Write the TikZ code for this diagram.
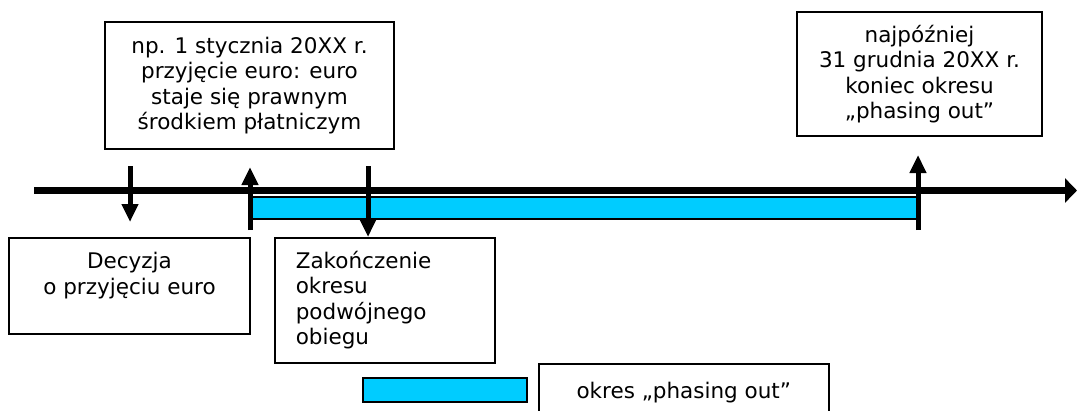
\documentclass[tikz,border=0pt]{standalone}
\usepackage{fontspec}
\setmainfont{DejaVu Sans}
\usetikzlibrary{positioning, arrows.meta}
\definecolor{BarColor}{RGB}{0,204,255}
\tikzstyle{timeline} = [line width=7pt, -{Triangle[length=12pt, width=24pt]}]
\tikzstyle{event} = [line width=5pt, -{Triangle[length=18pt, width=16pt]}]
\tikzstyle{note} = [draw, line width=1.6pt, inner sep=0pt, align=center, font=\fontsize{21.5}{25.5}\selectfont]
\tikzstyle{period} = [draw, line width=1.6pt, fill=BarColor, inner sep=0pt]

\begin{document}
\begin{tikzpicture}[x=1pt, y=-1pt]
    \useasboundingbox (0,0) rectangle (1077,410);

    % Boxes
    \node[note, minimum width=289, minimum height=127] (start) at (249.5,85.5)
        {np. 1 stycznia 20XX r.\\przyjęcie euro: euro\\staje się prawnym\\środkiem płatniczym};
    \node[note, minimum width=245, minimum height=124] (finish) at (919.5,74)
        {najpóźniej\\31 grudnia 20XX r.\\koniec okresu\\„phasing out”};
    \node[note, minimum width=241, minimum height=96] (decision) at (129.5,286)
        {Decyzja\\o przyjęciu euro\\~};
    \node[note, align=left, text width=178, inner xsep=21, minimum height=125, anchor=north west] (dual) at (274,237)
        {Zakończenie\\okresu\\podwójnego\\obiegu};

    % Period bar
    \node[period, minimum width=668, minimum height=22] (phaseout) at (584,208) {};

    % Time axis
    \coordinate (axisstart) at (34,190.5);
    \coordinate (axisend) at (1077,190.5);
    \draw[timeline] (axisstart) -- (axisend);

    % Events
    \coordinate (decisiontop) at (130,166);
    \coordinate (decisiontip) at (130,222);
    \draw[event] (decisiontop) -- (decisiontip);
    \coordinate (startfoot) at (250,230);
    \coordinate (starttip) at (250,167);
    \draw[event] (startfoot) -- (starttip);
    \coordinate (dualtop) at (368,166);
    \draw[event] (dualtop) -- (dualtop |- dual.north);
    \coordinate (finishfoot) at (918,230);
    \coordinate (finishtip) at (918,155);
    \draw[event] (finishfoot) -- (finishtip);

    % Legend
    \node[period, minimum width=164, minimum height=24] (sample) at (445,390) {};
    \node[note, minimum width=290, minimum height=58, anchor=north west] (legend) at (538,363)
        {okres „phasing out”};
\end{tikzpicture}
\end{document}
